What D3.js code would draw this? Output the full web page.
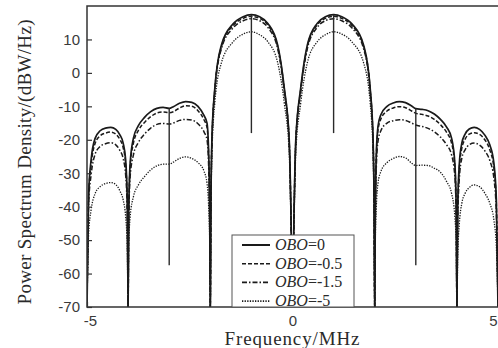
<!DOCTYPE html>
<html>
<head>
<meta charset="utf-8">
<script src="https://cdn.jsdelivr.net/npm/d3@7"></script>
<style>
  body { margin: 0; background: #fff; }
  svg { display: block; }
</style>
</head>
<body>
<script>
// frequency samples, MHz
var freq = [
  -5.0, -4.96, -4.9, -4.8, -4.68, -4.55, -4.42, -4.3, -4.2, -4.12, -4.06, -4.02, -4.0,
  -3.985, -3.95, -3.87, -3.75, -3.6, -3.45, -3.3, -3.15, -3.0, -2.9, -2.75, -2.6, -2.45, -2.3, -2.15, -2.08, -2.04, -2.015,
  -2.0,
  -1.985, -1.96, -1.89, -1.73, -1.45, -1.2, -1.0, -0.8, -0.6, -0.36, -0.2, -0.08, -0.04,
  0,
  0.04, 0.08, 0.2, 0.36, 0.6, 0.8, 1.0, 1.2, 1.45, 1.73, 1.89, 1.96, 1.985,
  2.0,
  2.015, 2.04, 2.08, 2.15, 2.3, 2.45, 2.6, 2.75, 2.9, 3.0, 3.15, 3.3, 3.45, 3.6, 3.75, 3.87, 3.95, 3.985,
  4.0,
  4.02, 4.06, 4.12, 4.2, 4.3, 4.42, 4.55, 4.68, 4.8, 4.9, 4.96, 5.0
];

// PSD, dBW/Hz
var obo0 = [
  -70, -36, -26, -19.5, -17.3, -16.5, -16.3, -16.9, -18.5, -21, -26, -38, -70,
  -42, -27, -19.5, -15.8, -13.3, -11.6, -10.6, -10.3, -10.6, -10.1, -9.1, -8.6, -8.8, -10, -12.8, -15, -24, -42,
  -70,
  -40, -19.6, -4.6, 8.3, 14.6, 16.8, 17.4, 16.8, 14.8, 8.3, -4.5, -20, -40,
  -70,
  -40, -20, -4.5, 8.3, 14.8, 16.8, 17.4, 16.8, 14.6, 8.3, -4.6, -19.6, -40,
  -70,
  -42, -24, -16, -12.5, -10, -9, -8.6, -8.9, -9.9, -10.7, -10.9, -11.3, -12.3, -13.9, -16.2, -19.5, -27, -42,
  -70,
  -40, -27, -21, -18.3, -16.8, -16.3, -16.9, -18.6, -21.5, -27, -38, -70
];
var obo05 = [
  -70, -37, -27.5, -21, -18.8, -18, -17.7, -18.3, -19.9, -22.4, -27.4, -39, -70,
  -43, -28, -21, -17.2, -14.8, -13.1, -12, -11.7, -11.9, -11.6, -10.5, -9.8, -10, -11.3, -14.1, -16.3, -25, -43,
  -70,
  -40, -20, -5, 7.8, 14.1, 16.3, 16.9, 16.3, 14.3, 7.8, -5, -20.5, -40,
  -70,
  -40, -20.5, -5, 7.8, 14.3, 16.3, 16.9, 16.3, 14.1, 7.8, -5, -20, -40,
  -70,
  -43, -25, -17.2, -13.8, -11.4, -10.5, -10.1, -10.4, -11.4, -12.1, -12.4, -12.9, -13.9, -15.5, -17.8, -21, -28, -43,
  -70,
  -41, -28.5, -22.5, -19.8, -18.3, -17.9, -18.4, -20, -23, -28.5, -39, -70
];
var obo15 = [
  -70, -39, -30.5, -24.2, -22, -21.2, -20.9, -21.5, -23.2, -25.6, -30.5, -42, -70,
  -45, -31, -24.5, -20.8, -18.3, -16.5, -15.4, -15.1, -15.3, -15, -14.2, -13.9, -14.1, -15.2, -17.7, -20, -28, -45,
  -70,
  -41, -21, -5.6, 7.2, 13.4, 15.6, 16.2, 15.6, 13.6, 7.2, -5.5, -21, -41,
  -70,
  -41, -21, -5.5, 7.2, 13.6, 15.6, 16.2, 15.6, 13.4, 7.2, -5.6, -21, -41,
  -70,
  -45, -28, -20.5, -17.3, -15, -14.3, -14, -14.2, -15, -15.6, -16, -16.6, -17.6, -19.2, -21.5, -24.5, -31, -45,
  -70,
  -44, -31.5, -25.5, -23, -21.5, -21, -21.6, -23.3, -26.2, -31.5, -42, -70
];
var obo5 = [
  -70, -48, -41, -36, -34, -33.1, -32.8, -33.4, -35.3, -38, -43, -52, -70,
  -52, -43, -37, -33.5, -31, -29, -27.8, -27.3, -27.3, -26.7, -25.6, -25.1, -25.6, -26.8, -29.5, -33, -40, -50,
  -70,
  -43, -24, -9, 3, 9.2, 11.6, 12.3, 11.4, 9.3, 3, -9, -24, -43,
  -70,
  -43, -24, -9, 3, 9.3, 11.4, 12.3, 11.6, 9.2, 3, -9, -24, -43,
  -70,
  -50, -40, -33, -29.5, -26.8, -25.6, -25, -25.4, -27, -27.7, -27.6, -27.7, -28.5, -29.7, -32.5, -36, -43, -52,
  -70,
  -55, -45, -39, -36, -34.3, -33.5, -34, -36, -39, -44, -52, -70
];

// spectral lines
var toneFreq = [-3, -1, 1, 3];
var toneTop = [-10.6, 17.4, 17.4, -10.7];
var toneBottom = [-57.5, -18, -18, -57.5];

var seriesNames = ["=0", "=-0.5", "=-1.5", "=-5"];
var seriesValues = [obo0, obo05, obo15, obo5];
var seriesDash = [null, "4,2", "5,2,1.5,2", "1.3,1.3"];
var seriesWidth = [1.7, 1.5, 1.5, 1.3];

var xTicks = [-5, 0, 5];
var yTicks = [-70, -60, -50, -40, -30, -20, -10, 0, 10];

var width = 498, height = 348;
var pL = 87, pR = 498, pT = 6, pB = 307;

var svg = d3.select("body").append("svg")
    .attr("width", width)
    .attr("height", height);

var x = d3.scaleLinear().domain([-5, 5]).range([pL, pR]);
var y = d3.scaleLinear().domain([-70, 20]).range([pB, pT]);

svg.append("clipPath").attr("id", "plot")
  .append("rect")
    .attr("x", pL).attr("y", pT)
    .attr("width", pR - pL).attr("height", pB - pT);

var line = d3.line()
    .x(function(d) { return x(d[0]); })
    .y(function(d) { return y(d[1]); })
    .curve(d3.curveMonotoneX);

var g = svg.append("g").attr("clip-path", "url(#plot)");

seriesValues.forEach(function(vals, i) {
  g.append("path")
    .datum(freq.map(function(f, j) { return [f, vals[j]]; }))
    .attr("d", line)
    .attr("fill", "none")
    .attr("stroke", "#1a1a1a")
    .attr("stroke-width", seriesWidth[i])
    .attr("stroke-dasharray", seriesDash[i]);
});

g.selectAll(".tone")
  .data(toneFreq)
  .enter().append("line")
    .attr("x1", function(d) { return x(d); })
    .attr("x2", function(d) { return x(d); })
    .attr("y1", function(d, i) { return y(toneTop[i]); })
    .attr("y2", function(d, i) { return y(toneBottom[i]); })
    .attr("stroke", "#2a2a2a")
    .attr("stroke-width", 1.4);

// axes
var plain = function(d) { return String(d); };
var yAxis = d3.axisLeft(y).tickValues(yTicks).tickFormat(plain).tickSize(-5).tickPadding(7);
var xAxis = d3.axisBottom(x).tickValues(xTicks).tickFormat(plain).tickSize(-5).tickPadding(8);

var ya = svg.append("g").attr("transform", "translate(" + pL + ",0)").call(yAxis);
var xa = svg.append("g").attr("transform", "translate(0," + pB + ")").call(xAxis);

[ya, xa].forEach(function(a) {
  a.select(".domain").remove();
  a.selectAll(".tick line").attr("stroke", "#333").attr("stroke-width", 1.2);
  a.selectAll("text")
    .attr("fill", "#3a3a3a")
    .style("font-family", "'Liberation Sans', Arial, sans-serif")
    .style("font-size", "15px");
});
xa.selectAll(".tick text").filter(function(d) { return d == 5; })
  .attr("text-anchor", "end").attr("dx", "-1");
xa.selectAll(".tick text").filter(function(d) { return d == -5; })
  .attr("dx", "3");

// frame (right edge falls outside the picture)
svg.append("path")
    .attr("d", "M" + pR + "," + pT + "H" + pL + "V" + pB + "H" + pR)
    .attr("fill", "none")
    .attr("stroke", "#333")
    .attr("stroke-width", 1.5);

// legend
var lg = svg.append("g").attr("transform", "translate(232,235)");
lg.append("rect")
    .attr("width", 122).attr("height", 72)
    .attr("fill", "#fff")
    .attr("stroke", "#555")
    .attr("stroke-width", 1);

seriesNames.forEach(function(name, i) {
  var ry = 10 + i * 18.7;
  lg.append("line")
    .attr("x1", 10).attr("x2", 38)
    .attr("y1", ry).attr("y2", ry)
    .attr("stroke", "#1a1a1a")
    .attr("stroke-width", i == 0 ? 2 : 1.6)
    .attr("stroke-dasharray", seriesDash[i]);
  var t = lg.append("text")
    .attr("x", 43).attr("y", ry + 5)
    .attr("fill", "#2a2a2a")
    .style("font-family", "'Liberation Serif', 'Times New Roman', serif")
    .style("font-size", "16px");
  t.append("tspan").style("font-style", "italic").text("OBO");
  t.append("tspan").text(name);
});

// axis titles
svg.append("text")
    .attr("x", 292).attr("y", 345)
    .attr("text-anchor", "middle")
    .attr("fill", "#2a2a2a")
    .attr("textLength", 135)
    .style("font-family", "'Liberation Serif', 'Times New Roman', serif")
    .style("font-size", "19px")
    .text("Frequency/MHz");

svg.append("text")
    .attr("transform", "translate(31,162) rotate(-90)")
    .attr("text-anchor", "middle")
    .attr("fill", "#2a2a2a")
    .attr("textLength", 285)
    .style("font-family", "'Liberation Serif', 'Times New Roman', serif")
    .style("font-size", "19px")
    .text("Power Spectrum Density/(dBW/Hz)");
</script>
</body>
</html>
